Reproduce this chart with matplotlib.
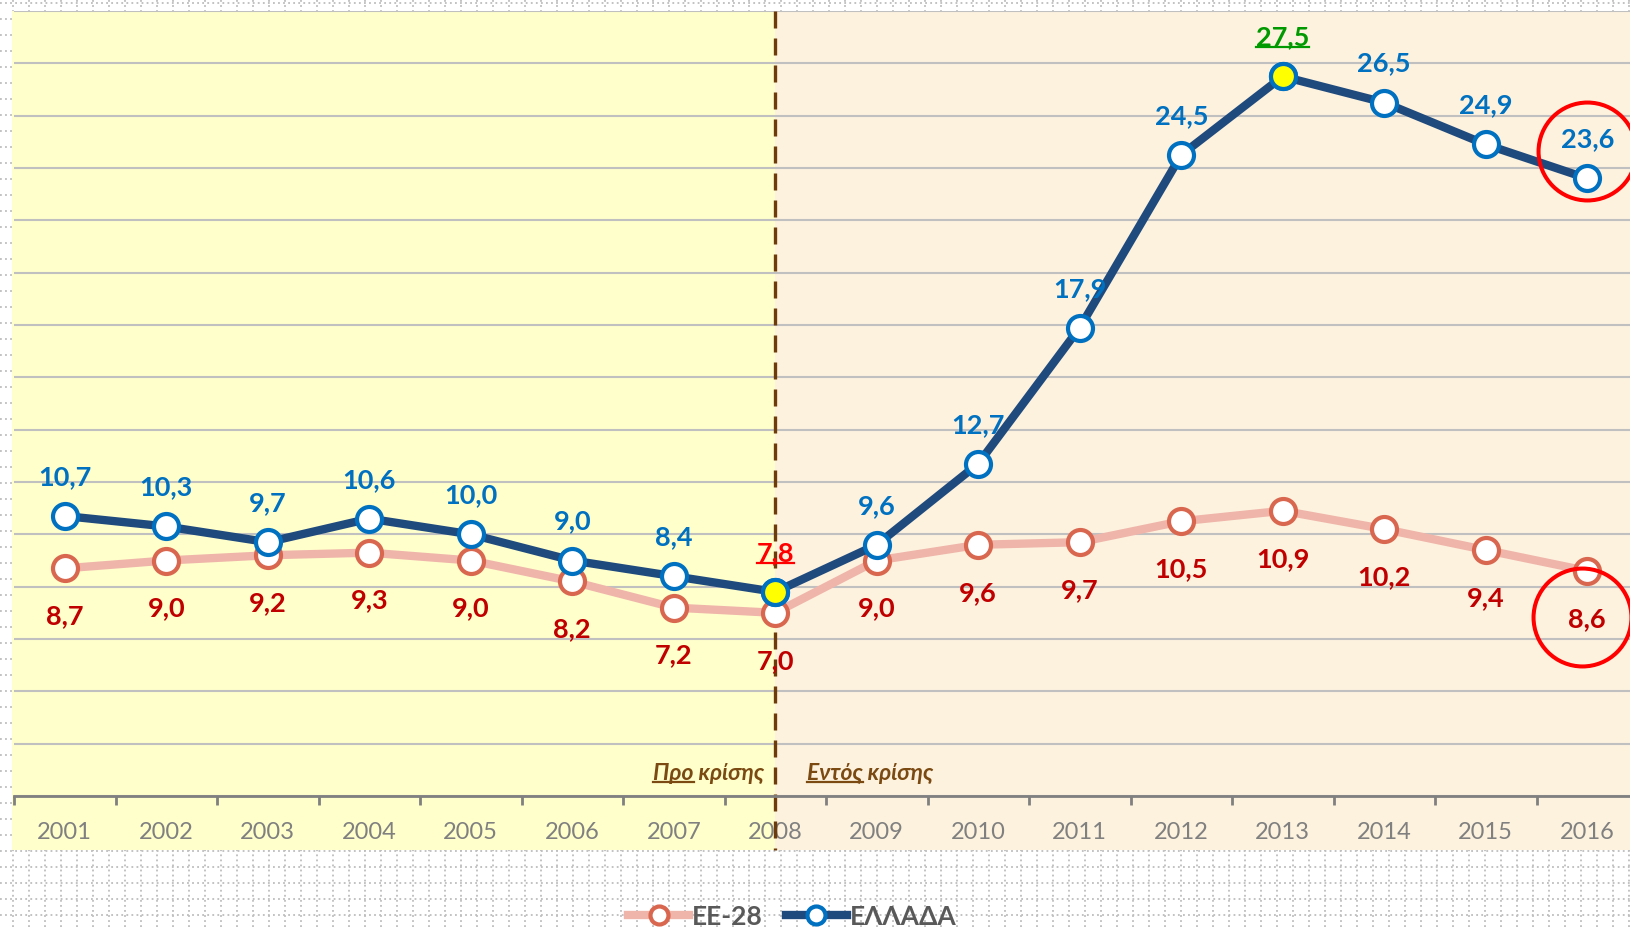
import numpy as np
import matplotlib
matplotlib.use('Agg')
import matplotlib.pyplot as plt
from matplotlib.lines import Line2D
from matplotlib.patches import Rectangle
from matplotlib.transforms import ScaledTranslation

plt.rcParams['font.family'] = ['Lato', 'DejaVu Sans']

# δεδομένα
years = ['2001', '2002', '2003', '2004', '2005', '2006', '2007', '2008',
         '2009', '2010', '2011', '2012', '2013', '2014', '2015', '2016']
ellada = [10.7, 10.3, 9.7, 10.6, 10.0, 9.0, 8.4, 7.8,
          9.6, 12.7, 17.9, 24.5, 27.5, 26.5, 24.9, 23.6]
ee28 = [8.7, 9.0, 9.2, 9.3, 9.0, 8.2, 7.2, 7.0,
        9.0, 9.6, 9.7, 10.5, 10.9, 10.2, 9.4, 8.6]
series_names = ['EE-28', 'ΕΛΛΑΔΑ']
crisis_year = '2008'
peak_year = '2013'
last_year = '2016'
period_labels = [('Προ', ' κρίσης'), ('Εντός', ' κρίσης')]

W, H = 1630, 928
DPI = 100
fig = plt.figure(figsize=(W / DPI, H / DPI), dpi=DPI)

# πλέγμα διαφάνειας στο φόντο
bg = fig.add_axes([0, 0, 1, 1], zorder=0)
bg.set_xlim(0, W)
bg.set_ylim(H, 0)
bg.axis('off')
for yy in np.arange(4, H, 16):
    bg.axhline(yy, color='#BDBDBD', lw=1.3, ls=(0, (1, 1.8)))
for xx in np.arange(12.7, W, 16):
    bg.axvline(xx, color='#BDBDBD', lw=1.3, ls=(0, (1, 1.8)))

# κύριοι άξονες (σε pixels)
ax_l, ax_r, ax_t, ax_b = 14, 1638, 12, 797
ax = fig.add_axes([ax_l / W, (H - ax_b) / H, (ax_r - ax_l) / W, (ax_b - ax_t) / H], zorder=1)
ax.patch.set_visible(False)

x = np.arange(len(years))
ax.set_xlim(-0.5, len(years) - 0.5)
ax.set_ylim(0, 30)

ci = years.index(crisis_year)
pi = years.index(peak_year)
li = years.index(last_year)

# χρώμα φόντου πριν / μετά την κρίση
cat_px = (ax_r - ax_l) / len(years)
below = -(851 - ax_b) / (ax_b - ax_t)
xt = ax.get_xaxis_transform()
left_x = -0.5 - 2 / cat_px
ax.add_patch(Rectangle((left_x, below), ci - left_x, 1 - below, transform=xt,
                       facecolor='#FFFFCC', edgecolor='none', zorder=0.2, clip_on=False))
ax.add_patch(Rectangle((ci, below), len(years) - ci, 1 - below, transform=xt,
                       facecolor='#FDF2DE', edgecolor='none', zorder=0.2, clip_on=False))

ax.set_yticks(np.arange(0, 31, 2))
ax.yaxis.grid(True, color='#C0C0C0', lw=1.5)
ax.tick_params(axis='y', length=0, labelleft=False)
for s in ['left', 'right', 'top']:
    ax.spines[s].set_visible(False)
ax.spines['bottom'].set_color('#808080')
ax.spines['bottom'].set_linewidth(2)

ax.set_xticks(np.arange(-0.5, len(years), 1))
ax.set_xticklabels([])
ax.set_xticks(x, minor=True)
ax.set_xticklabels(years, minor=True)
ax.tick_params(axis='x', which='major', length=6.5, width=2, color='#808080')
ax.tick_params(axis='x', which='minor', length=0, pad=18, labelsize=17, labelcolor='#808080')

# κάθετη γραμμή κρίσης
ax.plot([ci, ci], [1, below], transform=xt, color='#6E3B0A', lw=2.4,
        ls=(0, (5.1, 3.0)), zorder=2, clip_on=False)

# σειρές
l_ee, = ax.plot(x, ee28, color='#EFB5AA', lw=6, marker='o', ms=18, mfc='white',
                mec='#D9664F', mew=3, zorder=3, clip_on=False)
l_el, = ax.plot(x, ellada, color='#1F4A7E', lw=6, marker='o', ms=18, mfc='white',
                mec='#0070C0', mew=3, zorder=4, clip_on=False)
for i in [ci, pi]:
    ax.plot(x[i], ellada[i], 'o', ms=18, mfc='#FFFF00', mec='#0070C0', mew=3, zorder=5)

# ετικέτες τιμών
def fmt(v):
    return f'{v:.1f}'.replace('.', ',')

underlined = []
el_off, ee_off = 23, -39.5
for i, v in enumerate(ellada):
    col = '#0070C0'
    if i == ci:
        col = '#FF0000'
    elif i == pi:
        col = '#009900'
    t = ax.annotate(fmt(v), (x[i], v), xytext=(0, el_off), textcoords='offset points',
                    ha='center', va='baseline', fontsize=19.5, fontweight='bold',
                    color=col, zorder=6)
    if i in (ci, pi):
        underlined.append((t, x[i], v, el_off, col, None, 'normal'))
for i, v in enumerate(ee28):
    ax.annotate(fmt(v), (x[i], v), xytext=(0, ee_off), textcoords='offset points',
                ha='center', va='baseline', fontsize=19.5, fontweight='bold',
                color='#C00000', zorder=6)

# κείμενα περιόδων
brown = '#7B4A12'
pre = ax.annotate(''.join(period_labels[0]), (ci, 0), xytext=(-8, 12.5),
                  textcoords='offset points', ha='right', va='baseline',
                  fontsize=16.5, fontweight='bold', fontstyle='italic', color=brown, zorder=6)
post = ax.annotate(''.join(period_labels[1]), (ci, 0), xytext=(23, 12.5),
                   textcoords='offset points', ha='left', va='baseline',
                   fontsize=16.5, fontweight='bold', fontstyle='italic', color=brown, zorder=6)
underlined.append((pre, ci, 0, 12.5, brown, period_labels[0][0], 'italic'))
underlined.append((post, ci, 0, 12.5, brown, period_labels[1][0], 'italic'))

# κόκκινοι κύκλοι στο 2016
up = ax.transData + ScaledTranslation(0, 20 / 72, fig.dpi_scale_trans)
dn = ax.transData + ScaledTranslation(-4 / 72, -33 / 72, fig.dpi_scale_trans)
ax.plot(x[li], ellada[li], 'o', transform=up, ms=70.5, mfc='none', mec='#FF0000',
        mew=2.9, zorder=7, clip_on=False)
ax.plot(x[li], ee28[li], 'o', transform=dn, ms=70.5, mfc='none', mec='#FF0000',
        mew=2.9, zorder=7, clip_on=False)

# υπόμνημα
fig.legend([l_ee, l_el], series_names, loc='center', bbox_to_anchor=(0.486, 0.012),
           ncol=2, frameon=False, prop={'weight': 'bold', 'size': 19},
           labelcolor='#595959', handlelength=2.3, handletextpad=0.1,
           columnspacing=0.9, markerscale=0.72)

# υπογραμμίσεις
fig.canvas.draw()
r = fig.canvas.get_renderer()
inv = fig.transFigure.inverted()
for t, xi, yi, off, col, part, style in underlined:
    bb = t.get_window_extent(r)
    base = ax.transData.transform((xi, yi))[1] + off * DPI / 72
    x0, x1 = bb.x0, bb.x1
    if part is not None:
        tmp = ax.text(0, 0, part, fontsize=t.get_fontsize(), fontweight='bold',
                      fontstyle=style)
        w = tmp.get_window_extent(r).width
        tmp.remove()
        x1 = x0 + w
    p0 = inv.transform((x0, base - 3))
    p1 = inv.transform((x1, base - 3))
    fig.add_artist(Line2D([p0[0], p1[0]], [p0[1], p1[1]], color=col, lw=1.6, zorder=8))

fig.savefig('out.png', dpi=DPI)
